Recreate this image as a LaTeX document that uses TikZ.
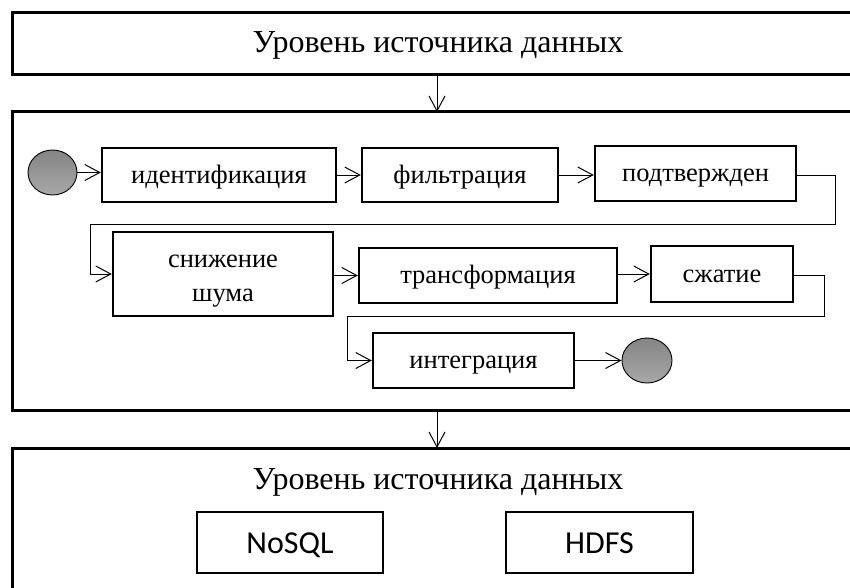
\documentclass[tikz,border=0pt]{standalone}
\usepackage{fontspec}
\setmainfont{Liberation Serif}
\newfontfamily\boxsans{Carlito}
\usetikzlibrary{arrows.meta,shapes.geometric}
\begin{document}
\begin{tikzpicture}[x=1pt,y=-1pt,
  layer/.style={draw,line width=3pt},
  stage/.style={draw,line width=2.4pt,inner sep=0pt,font=\fontsize{26.5}{34}\selectfont,
    align=center,text height=20pt,text depth=4pt},
  store/.style={draw,line width=2pt,inner sep=0pt,font=\boxsans\fontsize{32}{36}\selectfont,
    text height=23pt,text depth=2pt},
  marker/.style={ellipse,draw,line width=0.9pt,inner sep=0pt,
    top color={rgb,255:red,132;green,132;blue,132},
    bottom color={rgb,255:red,168;green,168;blue,168}},
  flow/.style={line width=1pt,-{Straight Barb[length=15pt,width=16pt,line width=1pt]}},
  title/.style={font=\fontsize{32}{36}\selectfont,anchor=base}]
\useasboundingbox (0,0) rectangle (850,588);
\clip (0,0) rectangle (850,588);

% three layers
\draw[layer] (12,13) rectangle (872,75);
\draw[layer] (12,112) rectangle (872,410);
\draw[layer] (12,448) rectangle (872,600);
\coordinate (topout) at (437,75);
\coordinate (midin) at (437,112);
\coordinate (midout) at (437,410);
\coordinate (botin) at (437,448);
\draw[flow] (topout) -- (midin);
\draw[flow] (midout) -- (botin);

\node[title] (srctop) at (438,53) {Уровень источника данных};
\node[title] (srcbot) at (438,489) {Уровень источника данных};

% processing chain
\node[marker,minimum width=49pt,minimum height=45pt] (start) at (52.5,172.5) {};
\node[stage,minimum width=234pt,minimum height=54pt] (ident) at (219,175) {идентификация};
\node[stage,minimum width=196pt,minimum height=54pt] (filt) at (460,175) {фильтрация};
\node[stage,minimum width=201pt,minimum height=55pt] (conf) at (695.5,173.5) {подтвержден};
\node[stage,minimum width=220pt,minimum height=84pt,text height=,text depth=] (noise) at (223,274)
  {\rule{0pt}{26pt}снижение\\шума\rule[-6pt]{0pt}{6pt}};
\node[stage,minimum width=258pt,minimum height=55pt] (trans) at (488,275.5) {трансформация};
\node[stage,minimum width=142pt,minimum height=56pt] (comp) at (722,274) {сжатие};
\node[stage,minimum width=201pt,minimum height=55pt] (integ) at (473.5,360.5) {интеграция};
\node[marker,minimum width=50pt,minimum height=45pt] (stop) at (647,360.5) {};

\draw[flow] (start.east) -- (start.east -| ident.west);
\draw[flow] (ident.east) -- (ident.east -| filt.west);
\draw[flow] (filt.east) -- (filt.east -| conf.west);
\coordinate (wrapA) at (835,175);
\coordinate (wrapB) at (90,224);
\draw[flow] (conf.east |- wrapA) -- (wrapA) |- (wrapB) |- (noise.west);
\draw[flow] (noise.east |- trans.west) -- (trans.west);
\draw[flow] (trans.east |- comp.west) -- (comp.west);
\coordinate (wrapC) at (824,275);
\coordinate (wrapD) at (347,316);
\draw[flow] (comp.east |- wrapC) -- (wrapC) |- (wrapD) |- (integ.west);
\draw[flow] (integ.east |- stop.west) -- (stop.west);

% storage
\node[store,minimum width=186pt,minimum height=61pt] (nosql) at (290,542.5) {NoSQL};
\node[store,minimum width=187pt,minimum height=61pt] (hdfs) at (599.5,542.5) {HDFS};
\end{tikzpicture}
\end{document}
